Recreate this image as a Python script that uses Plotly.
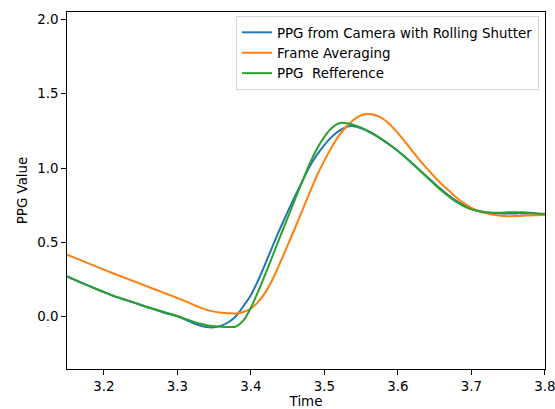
import numpy as np
import plotly.graph_objects as go

time = [round(3.15 + 0.01 * i, 2) for i in range(66)]

rolling_shutter = [
    0.271, 0.249, 0.228, 0.207, 0.186, 0.165, 0.146, 0.128, 0.112, 0.096,
    0.079, 0.062, 0.046, 0.030, 0.016, 0.003, -0.018, -0.039, -0.058, -0.070,
    -0.071, -0.060, -0.036, 0.005, 0.072, 0.145, 0.245, 0.36, 0.48, 0.595,
    0.705, 0.81, 0.91, 1.01, 1.09, 1.155, 1.21, 1.25, 1.277, 1.282,
    1.268, 1.246, 1.218, 1.186, 1.152, 1.115, 1.074, 1.030, 0.985, 0.940,
    0.895, 0.852, 0.812, 0.777, 0.748, 0.726, 0.711, 0.701, 0.696, 0.694,
    0.694, 0.695, 0.695, 0.694, 0.692, 0.69,
]

frame_averaging = [
    0.417, 0.397, 0.377, 0.357, 0.337, 0.317, 0.297, 0.278, 0.259, 0.240,
    0.221, 0.202, 0.183, 0.164, 0.145, 0.126, 0.106, 0.085, 0.063, 0.046,
    0.034, 0.027, 0.023, 0.022, 0.032, 0.055, 0.10, 0.165, 0.255, 0.365,
    0.48, 0.595, 0.715, 0.835, 0.95, 1.05, 1.14, 1.22, 1.28, 1.325,
    1.355, 1.363, 1.355, 1.33, 1.29, 1.235, 1.175, 1.113, 1.05, 0.995,
    0.94, 0.89, 0.845, 0.80, 0.762, 0.732, 0.71, 0.695, 0.685, 0.679,
    0.676, 0.677, 0.679, 0.681, 0.683, 0.685,
]

ppg_reference = [
    0.271, 0.249, 0.228, 0.207, 0.186, 0.166, 0.147, 0.129, 0.113, 0.097,
    0.081, 0.065, 0.050, 0.035, 0.020, 0.005, -0.013, -0.030, -0.046, -0.057,
    -0.064, -0.068, -0.070, -0.066, -0.025, 0.06, 0.17, 0.29, 0.415, 0.54,
    0.665, 0.79, 0.91, 1.03, 1.13, 1.21, 1.27, 1.302, 1.302, 1.29,
    1.272, 1.248, 1.22, 1.188, 1.153, 1.115, 1.073, 1.028, 0.982, 0.936,
    0.890, 0.846, 0.806, 0.771, 0.743, 0.722, 0.709, 0.702, 0.699, 0.70,
    0.702, 0.703, 0.702, 0.699, 0.695, 0.692,
]

series = [
    ("PPG from Camera with Rolling Shutter", rolling_shutter, "#1f77b4"),
    ("Frame Averaging", frame_averaging, "#ff7f0e"),
    ("PPG  Refference", ppg_reference, "#2ca02c"),
]

FONT = "DejaVu Sans"
FS = 13.4

fig = go.Figure()
for i, (name, vals, color) in enumerate(series):
    fig.add_trace(go.Scatter(
        x=time, y=vals, mode="lines", name=name,
        line=dict(color=color, width=2, shape="spline", smoothing=0.8),
        legendgroup=f"g{i}",
    ))

axis_common = dict(
    showline=True, linecolor="black", linewidth=1.07, mirror=True,
    ticks="outside", ticklen=4.7, tickwidth=1.07, tickcolor="black",
    showgrid=False, zeroline=False, ticklabeloverflow="allow",
    tickfont=dict(family=FONT, size=FS, color="black"),
    title_font=dict(family=FONT, size=FS, color="black"),
)

fig.update_xaxes(
    range=[3.15, 3.80005], tickvals=[3.2, 3.3, 3.4, 3.5, 3.6, 3.7, 3.8],
    ticktext=["3.2", "3.3", "3.4", "3.5", "3.6", "3.7", "3.8"],
    title_text="Time", title_standoff=10, **axis_common,
)
fig.update_yaxes(
    range=[-0.352, 2.05], tickvals=[0.0, 0.5, 1.0, 1.5, 2.0],
    ticktext=["0.0", "0.5", "1.0", "1.5", "2.0"],
    title_text="PPG Value", title_standoff=6, **axis_common,
)

fig.update_layout(
    width=555, height=409,
    margin=dict(l=67, r=10, t=12, b=40, autoexpand=False),
    paper_bgcolor="white", plot_bgcolor="white",
    font=dict(family=FONT, size=FS, color="black"),
    legend=dict(
        x=0.3535, y=0.9885, xanchor="left", yanchor="top",
        bgcolor="rgba(255,255,255,0.8)", bordercolor="#d6d6d6", borderwidth=1,
        font=dict(family=FONT, size=FS, color="black"),
        traceorder="grouped", tracegroupgap=0,
    ),
    showlegend=True,
)

fig.write_html(
    "out.html",
    config={"displayModeBar": False},
    post_script="document.body.style.margin='0';document.body.style.overflow='hidden';",
)
